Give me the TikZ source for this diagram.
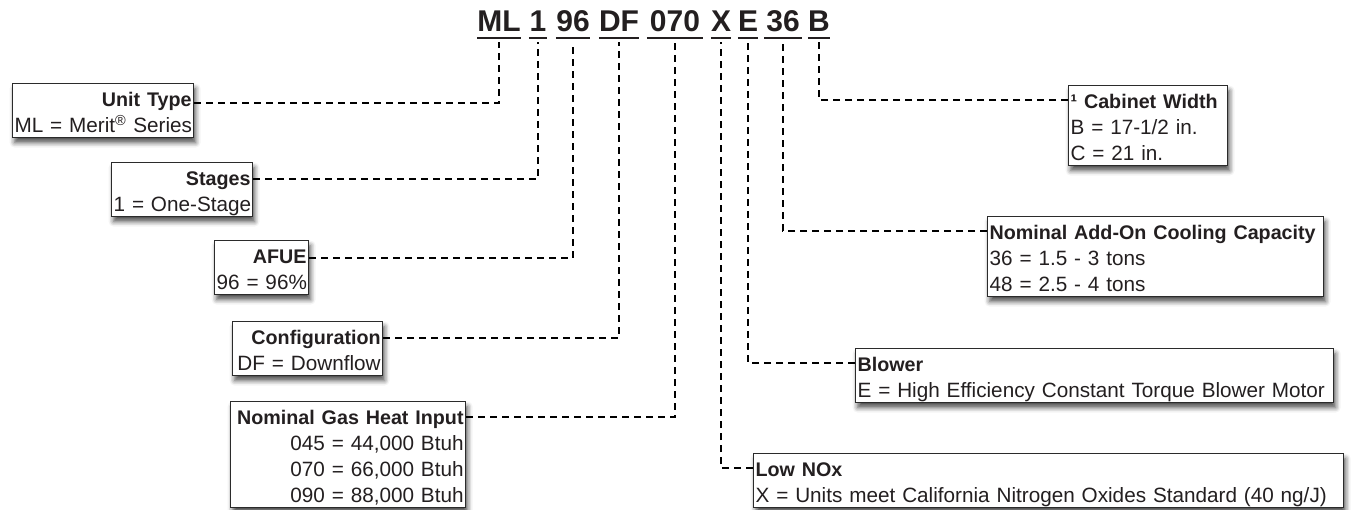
\documentclass[tikz,border=0pt]{standalone}
\usepackage{fontspec}
\setmainfont{Liberation Sans}
\usetikzlibrary{shadows.blur}
\definecolor{txt}{HTML}{231F20}
\definecolor{boxc}{HTML}{2B2B2B}
\newcommand\bodyfnt{\fontsize{20.7pt}{26pt}\selectfont}
\newcommand\hd[1]{\mbox{\fontsize{19.7pt}{26pt}\selectfont\bfseries #1}}
\newcommand\bxline[1]{\mbox{#1}}
\newcommand\ttlfnt{\fontsize{30pt}{32pt}\selectfont\bfseries}
\tikzset{
  box/.style={draw=boxc, line width=1.2pt, fill=white, inner xsep=2pt, inner ysep=0pt,
    text height=23pt, font=\bodyfnt, text=txt, anchor=north west,
    blur shadow={shadow xshift=2pt, shadow yshift=-5pt, shadow blur radius=5pt, shadow opacity=70}},
  lbox/.style={box, align=right},
  rbox/.style={box, align=left},
  two/.style={text depth=31pt},
  three/.style={text depth=57pt},
  four/.style={text depth=83pt},
  conn/.style={draw=black, line width=1.8pt, dash pattern=on 7pt off 5pt},
  seg/.style={font=\ttlfnt, text=txt, inner sep=0pt, anchor=base, text depth=6pt},
  uline/.style={draw=txt, line width=2pt},
}
\begin{document}
\begin{tikzpicture}[x=1pt,y=-1pt]
\useasboundingbox (0,0) rectangle (1352,510);
% title segments
\node[seg, minimum width=42pt] (tML) at (499,32) {ML};
\node[seg, minimum width=18pt] (t1) at (538,32) {1};
\node[seg, minimum width=34pt] (t96) at (573,32) {96};
\node[seg, minimum width=36pt] (tDF) at (619,32) {DF};
\node[seg, minimum width=56pt] (t070) at (675,32) {070};
\node[seg, minimum width=19pt] (tX) at (721,32) {X};
\node[seg, minimum width=20pt] (tE) at (748,32) {E};
\node[seg, minimum width=37pt] (t36) at (783,32) {36};
\node[seg, minimum width=19pt] (tB) at (819,32) {B};
\foreach \n in {tML,t1,t96,tDF,t070,tX,tE,t36,tB}
  \draw[uline] (\n.south west) -- (\n.south east);
% left boxes
\node[lbox, two, text width=177pt] (unit) at (12,83) {\hd{Unit Type}\\\bxline{ML = Merit\textsuperscript{®} Series}};
\node[lbox, two, text width=137pt] (stages) at (111,162) {\hd{Stages}\\\bxline{1 = One-Stage}};
\node[lbox, two, text width=90pt] (afue) at (214,240) {\hd{AFUE}\\\bxline{96 = 96\%}};
\node[lbox, two, text width=146pt] (config) at (232,321) {\hd{Configuration}\\\bxline{DF = Downflow}};
\node[lbox, four, text width=231pt] (gas) at (230,401) {\hd{Nominal Gas Heat Input}\\\bxline{045 = 44,000 Btuh}\\\bxline{070 = 66,000 Btuh}\\\bxline{090 = 88,000 Btuh}};
% right boxes
\node[rbox, three, text width=155pt] (cab) at (1068,85) {\hd{¹ Cabinet Width}\\\bxline{B = 17-1/2 in.}\\\bxline{C = 21 in.}};
\node[rbox, three, text width=332pt] (cool) at (987,216) {\hd{Nominal Add-On Cooling Capacity}\\\bxline{36 = 1.5 - 3 tons}\\\bxline{48 = 2.5 - 4 tons}};
\node[rbox, two, text width=474pt] (blower) at (855,348) {\hd{Blower}\\\bxline{E = High Efficiency Constant Torque Blower Motor}};
\node[rbox, two, text width=586pt] (nox) at (753,453) {\hd{Low NOx}\\\bxline{X = Units meet California Nitrogen Oxides Standard (40 ng/J)}};
% connectors
\draw[conn] ([yshift=-20pt]unit.north east) -| ([yshift=-4pt]tML.south);
\draw[conn] ([yshift=-17pt]stages.north east) -| ([yshift=-4pt]t1.south);
\draw[conn] ([yshift=-18pt]afue.north east) -| ([yshift=-4pt]t96.south);
\draw[conn] ([yshift=-17pt]config.north east) -| ([yshift=-4pt]tDF.south);
\draw[conn] ([yshift=-16pt]gas.north east) -| ([yshift=-4pt]t070.south);
\draw[conn] ([yshift=-15pt]cab.north west) -| ([yshift=-4pt]tB.south);
\draw[conn] ([yshift=-15pt]cool.north west) -| ([yshift=-4pt]t36.south);
\draw[conn] ([yshift=-15pt]blower.north west) -| ([yshift=-4pt]tE.south);
\draw[conn] ([yshift=-15pt]nox.north west) -| ([yshift=-4pt]tX.south);
\end{tikzpicture}
\end{document}
